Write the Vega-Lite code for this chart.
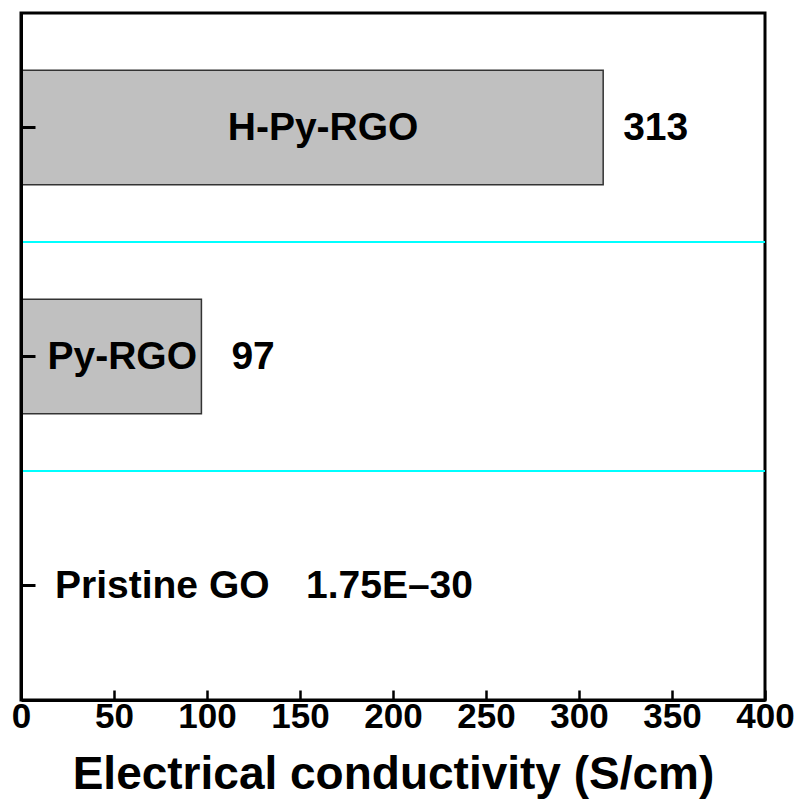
{
  "$schema": "https://vega.github.io/schema/vega-lite/v6.json",
  "autosize": "none",
  "width": 744,
  "height": 687,
  "padding": {"left": 21, "top": 13, "right": 32, "bottom": 108},
  "background": "white",
  "config": {
    "font": "Liberation Sans",
    "view": {"stroke": "black", "strokeWidth": 3},
    "axis": {"grid": false, "domainColor": "black", "tickColor": "black", "labelColor": "black", "titleColor": "black"}
  },
  "data": {
    "values": [
      {"sample": "H-Py-RGO", "conductivity": 313, "label": "313"},
      {"sample": "Py-RGO", "conductivity": 97, "label": "97"},
      {"sample": "Pristine GO", "conductivity": 1.75e-30, "label": "1.75E–30"}
    ]
  },
  "encoding": {
    "y": {
      "field": "sample",
      "type": "nominal",
      "sort": ["H-Py-RGO", "Py-RGO", "Pristine GO"],
      "scale": {"paddingInner": 0, "paddingOuter": 0},
      "axis": {"title": null, "labels": false, "tickSize": -14, "tickWidth": 3, "domainWidth": 3, "zindex": 2}
    }
  },
  "layer": [
    {
      "transform": [{"filter": "datum.sample !== 'H-Py-RGO'"}],
      "mark": {"type": "rule", "color": "#00ffff", "strokeWidth": 2},
      "encoding": {
        "y": {"field": "sample", "type": "nominal", "bandPosition": 0, "sort": ["H-Py-RGO", "Py-RGO", "Pristine GO"]}
      }
    },
    {
      "mark": {"type": "bar", "fill": "#c0c0c0", "stroke": "#333333", "strokeWidth": 1.5, "height": {"band": 0.5}},
      "encoding": {
        "x": {
          "field": "conductivity",
          "type": "quantitative",
          "scale": {"domain": [0, 400], "nice": false},
          "axis": {
            "title": "Electrical conductivity (S/cm)",
            "values": [0, 50, 100, 150, 200, 250, 300, 350, 400],
            "zindex": 2,
            "tickSize": -10,
            "tickWidth": 2.5,
            "domainWidth": 3,
            "labelFontSize": 35,
            "labelFontWeight": "bold",
            "labelPadding": 9,
            "labelFlush": false,
            "titleFontSize": 46,
            "titleFontWeight": "bold",
            "titlePadding": 18
          }
        }
      }
    },
    {
      "transform": [
        {"filter": "datum.sample === 'H-Py-RGO' || datum.sample === 'Py-RGO'"},
        {"calculate": "datum.conductivity / 2", "as": "mid"}
      ],
      "mark": {"type": "text", "fontSize": 39, "fontWeight": "bold", "color": "black", "align": "center", "baseline": "middle", "dx": 11},
      "encoding": {
        "x": {"field": "mid", "type": "quantitative"},
        "text": {"field": "sample"}
      }
    },
    {
      "transform": [{"filter": "datum.sample === 'H-Py-RGO'"}],
      "mark": {"type": "text", "fontSize": 39, "fontWeight": "bold", "color": "black", "align": "left", "baseline": "middle", "dx": 20},
      "encoding": {
        "x": {"field": "conductivity", "type": "quantitative"},
        "text": {"field": "label"}
      }
    },
    {
      "transform": [{"filter": "datum.sample === 'Py-RGO'"}],
      "mark": {"type": "text", "fontSize": 39, "fontWeight": "bold", "color": "black", "align": "left", "baseline": "middle", "dx": 30},
      "encoding": {
        "x": {"field": "conductivity", "type": "quantitative"},
        "text": {"field": "label"}
      }
    },
    {
      "transform": [{"filter": "datum.sample === 'Pristine GO'"}],
      "mark": {"type": "text", "fontSize": 39, "fontWeight": "bold", "color": "black", "align": "left", "baseline": "middle", "dx": 34},
      "encoding": {
        "x": {"field": "conductivity", "type": "quantitative"},
        "text": {"field": "sample"}
      }
    },
    {
      "transform": [{"filter": "datum.sample === 'Pristine GO'"}],
      "mark": {"type": "text", "fontSize": 39, "fontWeight": "bold", "color": "black", "align": "left", "baseline": "middle", "dx": 285},
      "encoding": {
        "x": {"field": "conductivity", "type": "quantitative"},
        "text": {"field": "label"}
      }
    }
  ]
}
